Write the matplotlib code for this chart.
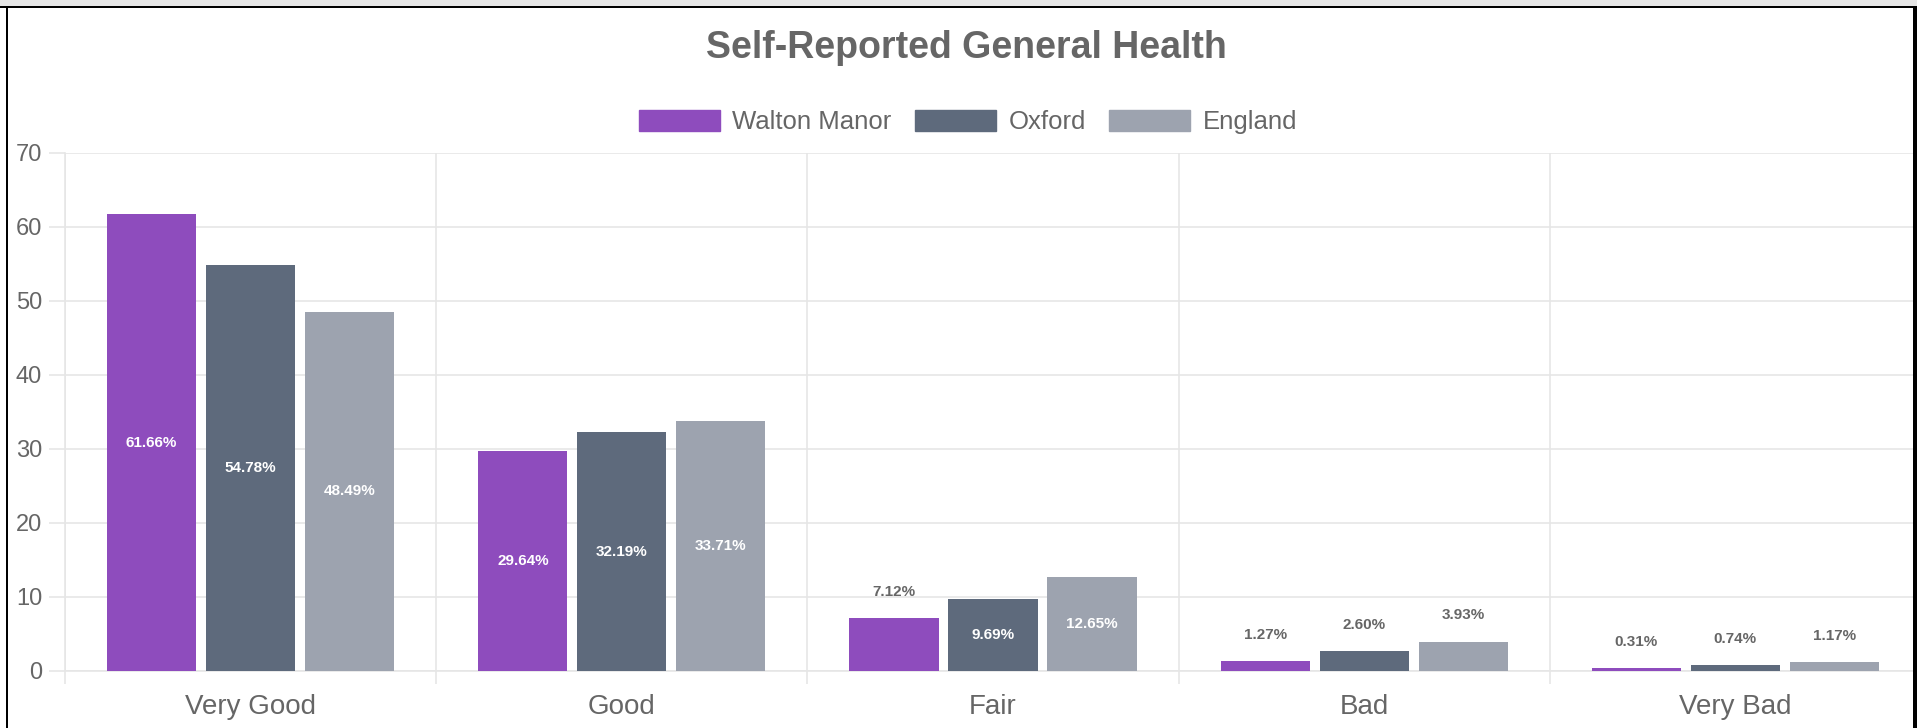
import numpy as np
import matplotlib
matplotlib.use("Agg")
import matplotlib.pyplot as plt
from matplotlib.patches import Patch, Rectangle

plt.rcParams['font.family'] = ['Liberation Sans', 'DejaVu Sans']

categories = ["Very Good", "Good", "Fair", "Bad", "Very Bad"]
series = ["Walton Manor", "Oxford", "England"]
walton = [61.66, 29.64, 7.12, 1.27, 0.31]
oxford = [54.78, 32.19, 9.69, 2.60, 0.74]
england = [48.49, 33.71, 12.65, 3.93, 1.17]
colors = ["#8e4cbd", "#5e6a7c", "#9da3af"]
yticks = [0, 10, 20, 30, 40, 50, 60, 70]

grid_c = "#e6e6e6"
text_c = "#666666"

fig = plt.figure(figsize=(19.17, 7.28), dpi=100)
ax = fig.add_axes([65 / 1917, 57.3 / 728, (1921 - 65) / 1917, 518 / 728])

x = np.arange(len(categories))
slot = 0.8 / 3
bw = slot * 0.9
for i, (vals, col) in enumerate(zip([walton, oxford, england], colors)):
    pos = x + (i - 1) * slot
    ax.bar(pos, vals, width=bw, color=col, zorder=3)
    for px, v in zip(pos, vals):
        lab = f"{v:.2f}%"
        if v >= 8:
            ax.text(px, v / 2, lab, ha="center", va="center", color="white",
                    fontsize=11, fontweight="bold", zorder=4)
        else:
            ax.annotate(lab, (px, v), xytext=(0, 19), textcoords="offset points",
                        ha="center", va="center", color=text_c,
                        fontsize=11, fontweight="bold", zorder=4)

ax.set_xlim(-0.5, len(categories) - 0.5)
ax.set_ylim(0, 70)
ax.set_yticks(yticks)
ax.set_xticks(x)
ax.set_xticklabels(categories)
ax.set_xticks(np.arange(len(categories) + 1) - 0.5, minor=True)

for s in ["top", "right"]:
    ax.spines[s].set_visible(False)
for s in ["left", "bottom"]:
    ax.spines[s].set_color(grid_c)
    ax.spines[s].set_linewidth(1.2)

ax.grid(axis="y", color=grid_c, linewidth=1.2, zorder=0)
ax.grid(axis="x", which="minor", color=grid_c, linewidth=1.2, zorder=0)
ax.tick_params(axis="y", length=11.5, color=grid_c, width=1.2, labelsize=17,
               labelcolor=text_c, pad=5)
ax.tick_params(axis="x", which="major", length=0, labelsize=20,
               labelcolor=text_c, pad=17)
ax.tick_params(axis="x", which="minor", length=9, color=grid_c, width=1.2)

fig.text(966 / 1917, 1 - 48 / 728, "Self-Reported General Health", ha="center",
         va="center", fontsize=27, fontweight="bold", color=text_c)

handles = [Patch(facecolor=c, edgecolor=c, label=s) for s, c in zip(series, colors)]
fig.legend(handles=handles, loc="center", bbox_to_anchor=(968 / 1917, 1 - 122 / 728),
           ncol=3, frameon=False, fontsize=18.5, labelcolor=text_c,
           handlelength=3.15, handleheight=0.9, handletextpad=0.5, columnspacing=0.9)

# page frame
fig.add_artist(Rectangle((0, 1 - 6 / 728), 1, 6 / 728, transform=fig.transFigure,
                         facecolor="#e6e6e6", edgecolor="none"))
fig.add_artist(Rectangle((0, 1 - 8 / 728), 1, 2 / 728, transform=fig.transFigure,
                         facecolor="black", edgecolor="none"))
fig.add_artist(Rectangle((6 / 1917, 0), 2 / 1917, 1 - 6 / 728, transform=fig.transFigure,
                         facecolor="black", edgecolor="none"))
fig.add_artist(Rectangle((1913 / 1917, 0), 4 / 1917, 1 - 6 / 728, transform=fig.transFigure,
                         facecolor="black", edgecolor="none"))

fig.savefig("out.png", dpi=100)
